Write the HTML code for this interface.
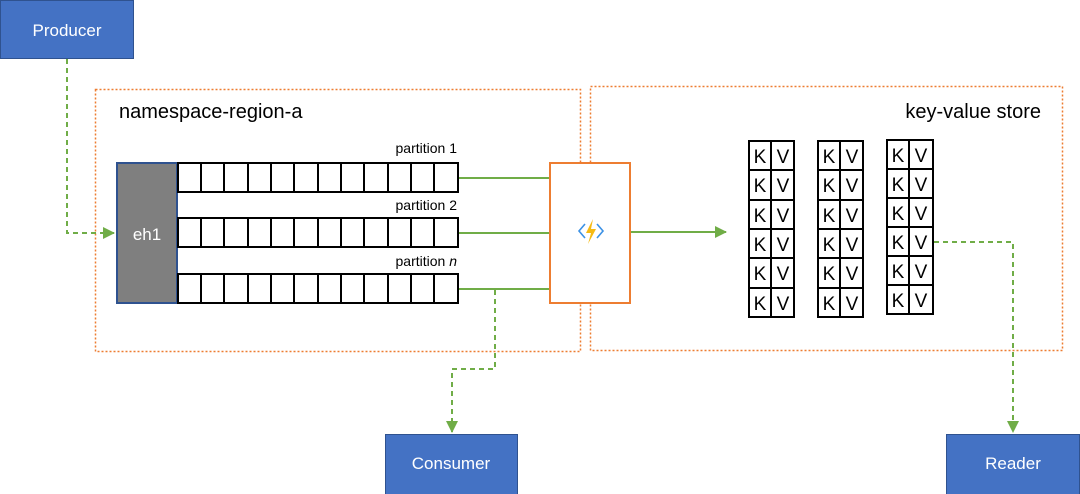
<!DOCTYPE html>
<html><head><meta charset="utf-8"><style>
html,body{margin:0;padding:0;background:#fff;width:1080px;height:494px;overflow:hidden}
text{font-family:"Liberation Sans",sans-serif}
</style></head><body>
<svg width="1080" height="494" viewBox="0 0 1080 494" xmlns="http://www.w3.org/2000/svg">
<defs>
<marker id="a" markerWidth="12" markerHeight="12" refX="11" refY="6" orient="auto" markerUnits="userSpaceOnUse"><path d="M0,0 L12,6 L0,12 z" fill="#70AD47"/></marker>
</defs>
<rect x="95.5" y="89.5" width="485" height="262" fill="none" stroke="#ED7D31" stroke-width="1.5" stroke-dasharray="2,2"/>
<rect x="590.5" y="86.5" width="472" height="264" fill="none" stroke="#ED7D31" stroke-width="1.5" stroke-dasharray="2,2"/>
<text x="119" y="118" font-size="20" fill="#000">namespace-region-a</text>
<text x="1041" y="118" font-size="20" fill="#000" text-anchor="end">key-value store</text>
<rect x="0.5" y="0.5" width="133" height="58" fill="#4472C4" stroke="#2F528F"/>
<text x="67" y="36" font-size="17" fill="#fff" text-anchor="middle">Producer</text>
<path d="M67,59 V233 H114" fill="none" stroke="#70AD47" stroke-width="2" stroke-dasharray="5,4" marker-end="url(#a)"/>
<rect x="117" y="163" width="60" height="140" fill="#7F7F7F" stroke="#2F528F" stroke-width="2"/>
<text x="147" y="240" font-size="17" fill="#fff" text-anchor="middle">eh1</text>
<g stroke="#000" stroke-width="2" fill="#fff">
<rect x="178" y="163" width="280" height="29"/>
<rect x="178" y="218" width="280" height="29"/>
<rect x="178" y="274" width="280" height="29"/>
</g>
<g stroke="#000" stroke-width="2">
<path d="M201,163V192M224,163V192M248,163V192M271,163V192M294,163V192M318,163V192M341,163V192M364,163V192M388,163V192M411,163V192M434,163V192"/>
<path d="M201,218V247M224,218V247M248,218V247M271,218V247M294,218V247M318,218V247M341,218V247M364,218V247M388,218V247M411,218V247M434,218V247"/>
<path d="M201,274V303M224,274V303M248,274V303M271,274V303M294,274V303M318,274V303M341,274V303M364,274V303M388,274V303M411,274V303M434,274V303"/>
</g>
<text x="457" y="153" font-size="14" text-anchor="end">partition 1</text>
<text x="457" y="210" font-size="14" text-anchor="end">partition 2</text>
<text x="457" y="266" font-size="14" text-anchor="end">partition <tspan font-style="italic">n</tspan></text>
<g stroke="#70AD47" stroke-width="2">
<path d="M459,178H549M459,233H549M459,289H549"/>
</g>
<rect x="550" y="163" width="80" height="140" fill="#fff" stroke="#ED7D31" stroke-width="2"/>
<path d="M585,224 L579,231 L585,238 M597,224 L603,231 L597,238" fill="none" stroke="#3C91E5" stroke-width="1.6"/>
<path d="M593,219 L586,233 L591,233 L588,244 L596,229 L591,229 Z" fill="#F5BA14"/>
<path d="M631,232H726" stroke="#70AD47" stroke-width="2" marker-end="url(#a)"/>
<path d="M495,290 V369 H452 V432" fill="none" stroke="#70AD47" stroke-width="2" stroke-dasharray="5,4" marker-end="url(#a)"/>
<rect x="385.5" y="434.5" width="132" height="60" fill="#4472C4" stroke="#2F528F"/>
<text x="451" y="469" font-size="17" fill="#fff" text-anchor="middle">Consumer</text>
<g stroke="#000" stroke-width="2" fill="#fff">
<rect x="749" y="141" width="45" height="176"/>
<rect x="818" y="141" width="45" height="176"/>
<rect x="887" y="140" width="46" height="174"/>
</g>
<g stroke="#000" stroke-width="2">
<path d="M771,141V317M840,141V317M909,140V314"/>
<path d="M749,170H794M749,200H794M749,229H794M749,258H794M749,288H794"/>
<path d="M818,170H863M818,200H863M818,229H863M818,258H863M818,288H863"/>
<path d="M887,169H933M887,198H933M887,227H933M887,256H933M887,285H933"/>
</g>
<g font-size="19" text-anchor="middle">
<text x="760" y="163">K</text><text x="783" y="163">V</text>
<text x="760" y="192">K</text><text x="783" y="192">V</text>
<text x="760" y="222">K</text><text x="783" y="222">V</text>
<text x="760" y="251">K</text><text x="783" y="251">V</text>
<text x="760" y="280">K</text><text x="783" y="280">V</text>
<text x="760" y="310">K</text><text x="783" y="310">V</text>
<text x="829" y="163">K</text><text x="852" y="163">V</text>
<text x="829" y="192">K</text><text x="852" y="192">V</text>
<text x="829" y="222">K</text><text x="852" y="222">V</text>
<text x="829" y="251">K</text><text x="852" y="251">V</text>
<text x="829" y="280">K</text><text x="852" y="280">V</text>
<text x="829" y="310">K</text><text x="852" y="310">V</text>
<text x="898" y="162">K</text><text x="921" y="162">V</text>
<text x="898" y="191">K</text><text x="921" y="191">V</text>
<text x="898" y="220">K</text><text x="921" y="220">V</text>
<text x="898" y="249">K</text><text x="921" y="249">V</text>
<text x="898" y="278">K</text><text x="921" y="278">V</text>
<text x="898" y="307">K</text><text x="921" y="307">V</text>
</g>
<path d="M934,242 H1013 V432" fill="none" stroke="#70AD47" stroke-width="2" stroke-dasharray="5,4" marker-end="url(#a)"/>
<rect x="946.5" y="434.5" width="133" height="60" fill="#4472C4" stroke="#2F528F"/>
<text x="1013" y="469" font-size="17" fill="#fff" text-anchor="middle">Reader</text>
</svg>
</body></html>
